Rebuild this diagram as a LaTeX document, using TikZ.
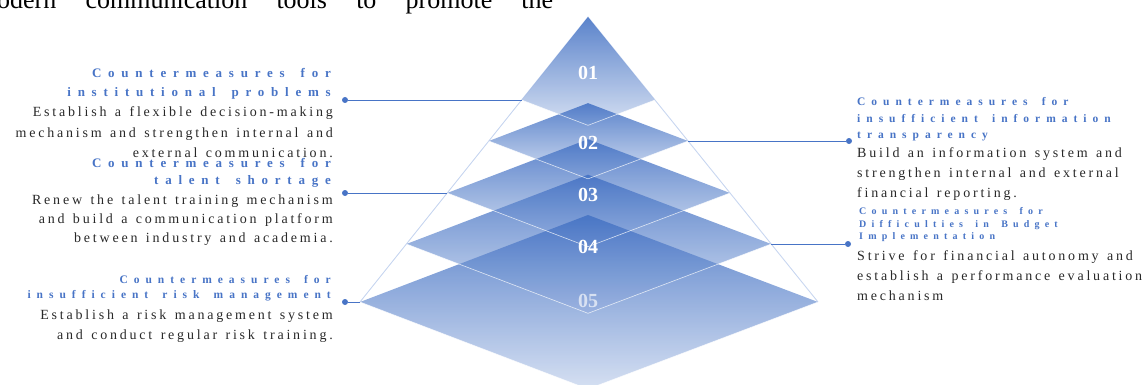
\documentclass[tikz,border=0pt]{standalone}
\usepackage{fontspec}
\setmainfont{Liberation Serif}
\newfontfamily\spacedfont[LetterSpace=20,WordSpace=1.33]{Liberation Serif}
\newfontfamily\headfont[LetterSpace=52,WordSpace=1.6]{Liberation Serif}
\usetikzlibrary{positioning}
\definecolor{pyrblue}{RGB}{68,114,196}
\definecolor{capblue}{RGB}{72,116,198}
\definecolor{bodygray}{RGB}{40,40,40}
\definecolor{rimblue}{RGB}{200,214,240}

\begin{document}
\begin{tikzpicture}[
    x=1pt, y=-1pt,
    headtxt/.style={font=\headfont\bfseries\fontsize{#1}{#1}\selectfont, text=capblue, inner sep=0pt},
    headtxt/.default=13,
    bodytxt/.style={font=\spacedfont\fontsize{14}{16}\selectfont, text=bodygray, inner sep=0pt},
    layer/.style={top color=pyrblue, bottom color=pyrblue!25!white, fill opacity=0.88, draw=none},
    rim/.style={draw=white, draw opacity=0.75, line width=0.6pt},
    pyrline/.style={draw=rimblue, line width=0.9pt},
    num/.style={font=\bfseries\fontsize{20}{20}\selectfont, text=white, inner sep=0pt},
    link/.style={draw=capblue, line width=0.9pt},
    dot/.style={circle, fill=capblue, inner sep=0pt, minimum size=6pt},
]
    \useasboundingbox (0,0) rectangle (1147,385);
    \clip (0,0) rectangle (1147,385);

    % running text, cut off at the top
    \node[anchor=base west, inner sep=0pt, font=\fontsize{26}{28}\selectfont] (runin) at (-3,9)
        {\makebox[556pt][s]{odern communication tools to promote the}};

    % pyramid corners
    \coordinate (apex) at (588,17);
    \foreach \n/\y in {1/100,2/141,3/193,4/244,5/302} {
        \pgfmathsetmacro\xl{588-(\y-17)*0.8}
        \pgfmathsetmacro\xr{588+(\y-17)*0.807}
        \pgfmathsetmacro\dep{0.38*(\xr-\xl)/2}
        \coordinate (l\n) at (\xl,\y);
        \coordinate (r\n) at (\xr,\y);
        \coordinate (t\n) at (588,\y-\dep);
        \coordinate (b\n) at (588,\y+\dep);
    }

    % outline
    \draw[pyrline] (l5) -- (apex) -- (r5);

    % layers
    \shade[layer] (apex) -- (l1) -- (b1) -- (r1) -- cycle;
    \foreach \n in {2,...,5}
        \shade[layer] (t\n) -- (l\n) -- (b\n) -- (r\n) -- cycle;

    % numbers
    \node[num] (n1) at (588,73) {01};
    \node[num] (n2) at (588,143) {02};
    \node[num] (n3) at (588,195) {03};
    \node[num] (n4) at (588,247) {04};
    \node[num, text opacity=0.65] (n5) at (588,301) {05};

    \foreach \n in {1,...,5}
        \draw[rim] (l\n) -- (b\n) -- (r\n);

    % connectors
    \node[dot] (dA) at (345,100) {};
    \node[dot] (dB) at (345,193) {};
    \node[dot] (dC) at (345,302) {};
    \node[dot] (dD) at (849,141) {};
    \node[dot] (dE) at (848,244) {};
    \draw[link] (dA) -- (l1);
    \draw[link] (dB) -- (l3);
    \draw[link] (dC) -- (l5);
    \draw[link] (dD) -- (r2);
    \draw[link] (dE) -- (r4);

    % left texts
    \foreach \txt [count=\i] in {Countermeasures for,institutional problems}
        \node[headtxt, anchor=base east] (hA\i) at (331,60+18*\i) {\txt};
    \foreach \txt [count=\i] in {Establish a flexible decision-making,mechanism and strengthen internal and,external communication.}
        \node[bodytxt, anchor=base east] (bA\i) at (333,97+20*\i) {\txt};

    \foreach \txt [count=\i] in {Countermeasures for,talent shortage}
        \node[headtxt, anchor=base east] (hB\i) at (331,150+17*\i) {\txt};
    \foreach \txt [count=\i] in {Renew the talent training mechanism,and build a communication platform,between industry and academia.}
        \node[bodytxt, anchor=base east] (bB\i) at (333,185+19*\i) {\txt};

    \foreach \txt [count=\i] in {Countermeasures for,insufficient risk management}
        \node[headtxt=11.5, anchor=base east] (hC\i) at (331,268+15*\i) {\txt};
    \foreach \txt [count=\i] in {Establish a risk management system,and conduct regular risk training.}
        \node[bodytxt, anchor=base east] (bC\i) at (333,299+20*\i) {\txt};

    % right texts
    \foreach \txt [count=\i] in {Countermeasures for,insufficient information,transparency}
        \node[headtxt=11.5, anchor=base west] (hD\i) at (857,90+16*\i) {\txt};
    \foreach \txt [count=\i] in {Build an information system and,strengthen internal and external,financial reporting.}
        \node[bodytxt, anchor=base west] (bD\i) at (857,137+20*\i) {\txt};

    \foreach \txt [count=\i] in {Countermeasures for,Difficulties in Budget,Implementation}
        \node[headtxt=10, anchor=base west] (hE\i) at (859,202+12.5*\i) {\txt};
    \foreach \txt [count=\i] in {Strive for financial autonomy and,establish a performance evaluation,mechanism}
        \node[bodytxt, anchor=base west] (bE\i) at (857,240+20*\i) {\txt};
\end{tikzpicture}
\end{document}
